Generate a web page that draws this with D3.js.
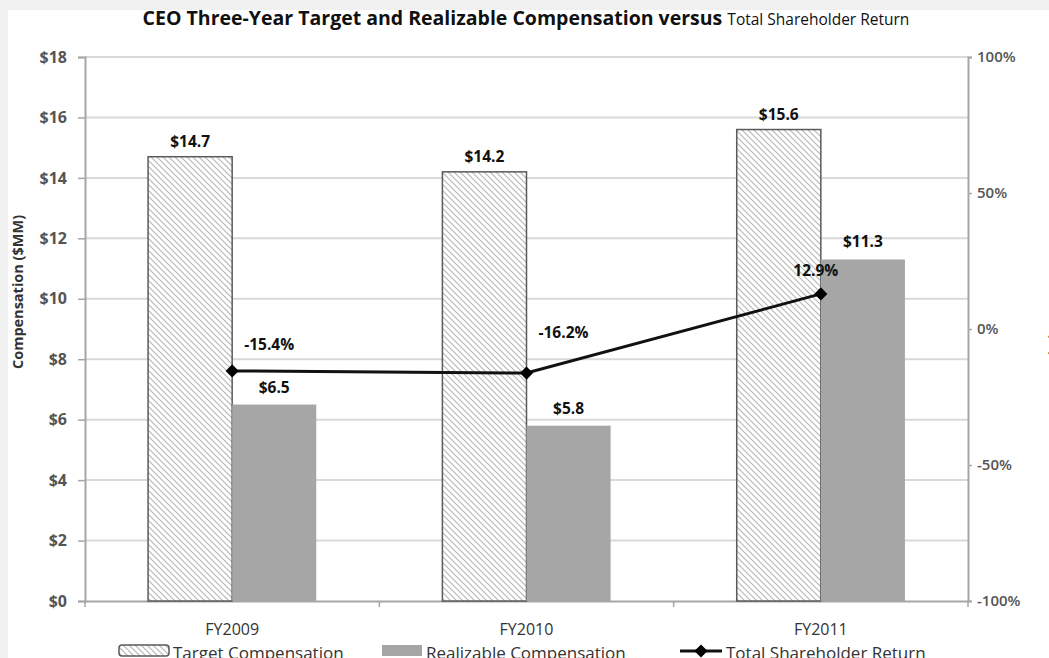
<!DOCTYPE html>
<html>
<head>
<meta charset="utf-8">
<script src="https://cdn.jsdelivr.net/npm/d3@7"></script>
<style>
  html, body { margin: 0; padding: 0; background: #f0f0f0; }
  svg { display: block; font-family: "Open Sans", Lato, sans-serif; }
</style>
</head>
<body>
<svg id="chart" width="1049" height="658"></svg>
<script>
// Chart data
const categories = ["FY2009", "FY2010", "FY2011"];
const targetComp = [14.7, 14.2, 15.6];       // $MM
const realizableComp = [6.5, 5.8, 11.3];     // $MM
const tsr = [-0.154, -0.162, 0.129];         // total shareholder return
const leftTicks = [0, 2, 4, 6, 8, 10, 12, 14, 16, 18];
const rightTicks = [-1, -0.5, 0, 0.5, 1];
const seriesNames = ["Target Compensation", "Realizable Compensation", "Total Shareholder Return"];

const svg = d3.select("#chart");
const W = 1049, H = 658;
const plot = { left: 85, right: 968, top: 57, bottom: 601 };
const font = "'Open Sans', Lato, sans-serif";
const minus = s => s.replace(/\u2212/g, "-");

// panel
svg.append("rect").attr("x", 0).attr("y", 0).attr("width", W).attr("height", H).attr("fill", "#f0f0f0");
svg.append("rect").attr("x", 8).attr("y", 10).attr("width", W).attr("height", H).attr("fill", "#ffffff");

// hatch for target bars
const defs = svg.append("defs");
const pat = defs.append("pattern").attr("id", "hatch").attr("patternUnits", "userSpaceOnUse")
  .attr("width", 6).attr("height", 6);
pat.append("rect").attr("width", 6).attr("height", 6).attr("fill", "#ffffff");
pat.append("path").attr("d", "M-1,-1 L7,7 M-1,5 L1,7 M5,-1 L7,1")
  .attr("stroke", "#b5b5b5").attr("stroke-width", 1.1);

// scales
const x = d3.scaleBand().domain(categories).range([plot.left, plot.right]).padding(0);
const xs = d3.scaleBand().domain(["target", "realizable"]).range([0, x.bandwidth()])
  .paddingInner(0).paddingOuter(0.75);
const y = d3.scaleLinear().domain([0, 18]).range([plot.bottom, plot.top]);
const y2 = d3.scaleLinear().domain([-1, 1]).range([plot.bottom, plot.top]);

// gridlines
svg.append("g").selectAll("line").data(leftTicks.filter(d => d > 0)).join("line")
  .attr("x1", plot.left).attr("x2", plot.right)
  .attr("y1", d => y(d)).attr("y2", d => y(d))
  .attr("stroke", "#d9d9d9").attr("stroke-width", 2);

const axisColor = "#a6a6a6";
const tickText = "#555555";

// left axis
const gL = svg.append("g").attr("transform", `translate(${plot.left},0)`)
  .call(d3.axisLeft(y).tickValues(leftTicks).tickFormat(d => "$" + d).tickSize(7).tickPadding(11));
gL.select(".domain").attr("stroke", axisColor).attr("stroke-width", 2);
gL.selectAll(".tick line").attr("stroke", axisColor).attr("stroke-width", 1.5);
gL.selectAll(".tick text").attr("fill", tickText).attr("font-size", 16).attr("font-weight", "bold")
  .attr("font-family", font);

// right axis
const gR = svg.append("g").attr("transform", `translate(${plot.right},0)`)
  .call(d3.axisRight(y2).tickValues(rightTicks).tickFormat(d => minus(d3.format(".0%")(d)))
    .tickSize(4).tickPadding(5));
gR.select(".domain").attr("stroke", axisColor).attr("stroke-width", 2);
gR.selectAll(".tick line").attr("stroke", axisColor).attr("stroke-width", 1.5);
gR.selectAll(".tick text").attr("fill", tickText).attr("font-size", 15).attr("font-weight", "600")
  .attr("font-family", font);

// category axis
const gX = svg.append("g").attr("transform", `translate(0,${plot.bottom})`)
  .call(d3.axisBottom(x).tickSize(0).tickPadding(23));
gX.select(".domain").attr("stroke", axisColor).attr("stroke-width", 2);
gX.selectAll(".tick text").attr("fill", "#333333").attr("font-size", 16)
  .attr("font-family", font);
svg.append("g").selectAll("line").data(d3.range(categories.length + 1)).join("line")
  .attr("x1", i => plot.left + i * x.step()).attr("x2", i => plot.left + i * x.step())
  .attr("y1", plot.bottom).attr("y2", plot.bottom + 6)
  .attr("stroke", axisColor).attr("stroke-width", 1.5);

// bars
const rows = categories.map((c, i) => ({ c, target: targetComp[i], real: realizableComp[i], tsr: tsr[i] }));

svg.append("g").selectAll("rect").data(rows).join("rect")
  .attr("x", d => x(d.c) + xs("target"))
  .attr("y", d => y(d.target))
  .attr("width", xs.bandwidth())
  .attr("height", d => y(0) - y(d.target))
  .attr("fill", "url(#hatch)").attr("stroke", "#5a5a5a").attr("stroke-width", 1.5);

svg.append("g").selectAll("rect").data(rows).join("rect")
  .attr("x", d => x(d.c) + xs("realizable"))
  .attr("y", d => y(d.real))
  .attr("width", xs.bandwidth())
  .attr("height", d => y(0) - y(d.real))
  .attr("fill", "#a6a6a6");

// bar value labels
svg.append("g").selectAll("text").data(rows).join("text")
  .attr("x", d => x(d.c) + xs("target") + xs.bandwidth() / 2)
  .attr("y", d => y(d.target) - 10)
  .attr("text-anchor", "middle").attr("font-size", 15.5).attr("font-weight", "bold")
  .attr("font-family", font).attr("fill", "#111")
  .text(d => "$" + d.target.toFixed(1));

svg.append("g").selectAll("text").data(rows).join("text")
  .attr("x", d => x(d.c) + xs("realizable") + xs.bandwidth() / 2)
  .attr("y", d => y(d.real) - 12)
  .attr("text-anchor", "middle").attr("font-size", 15.5).attr("font-weight", "bold")
  .attr("font-family", font).attr("fill", "#111")
  .text(d => "$" + d.real.toFixed(1));

// TSR line
const cx = d => x(d.c) + x.bandwidth() / 2;
const line = d3.line().x(cx).y(d => y2(d.tsr));
svg.append("path").datum(rows).attr("d", line)
  .attr("fill", "none").attr("stroke", "#111").attr("stroke-width", 3);

const diamond = d3.symbol().type(d3.symbolDiamond2).size(110);
svg.append("g").selectAll("path").data(rows).join("path")
  .attr("d", diamond)
  .attr("transform", d => `translate(${cx(d)},${y2(d.tsr)})`)
  .attr("fill", "#000");

// TSR labels (nudged off the line)
const tsrOffsets = [[37, -21], [37, -35], [-5, -18]];
svg.append("g").selectAll("text").data(rows).join("text")
  .attr("x", (d, i) => cx(d) + tsrOffsets[i][0])
  .attr("y", (d, i) => y2(d.tsr) + tsrOffsets[i][1])
  .attr("text-anchor", "middle").attr("font-size", 15.5).attr("font-weight", "bold")
  .attr("font-family", font).attr("fill", "#111")
  .text(d => minus(d3.format(".1%")(d.tsr)));

// title
const title = svg.append("text").attr("x", 526).attr("y", 25).attr("text-anchor", "middle")
  .attr("font-family", font).attr("fill", "#111");
title.append("tspan").attr("font-size", 19.5).attr("font-weight", "bold")
  .text("CEO Three-Year Target and Realizable Compensation versus ");
title.append("tspan").attr("font-size", 15.5).attr("font-weight", "normal")
  .text("Total Shareholder Return");

// axis titles
svg.append("text").attr("transform", "translate(23,292) rotate(-90)")
  .attr("text-anchor", "middle").attr("font-size", 14.5).attr("font-weight", "bold")
  .attr("font-family", font).attr("fill", "#333")
  .text("Compensation ($MM)");
svg.append("text").attr("transform", "translate(1051,330) rotate(90)")
  .attr("text-anchor", "middle").attr("font-size", 14.5).attr("font-weight", "bold")
  .attr("font-family", font).attr("fill", "#333")
  .text("TSR (%)");

// legend
const lg = svg.append("g").attr("font-family", font).attr("font-size", 17).attr("fill", "#333");
lg.append("rect").attr("x", 119).attr("y", 645).attr("width", 50).attr("height", 11).attr("rx", 3)
  .attr("fill", "url(#hatch)").attr("stroke", "#5a5a5a").attr("stroke-width", 1.5);
lg.append("text").attr("x", 173).attr("y", 659).text(seriesNames[0]);
lg.append("rect").attr("x", 382).attr("y", 645).attr("width", 40).attr("height", 11).attr("fill", "#a6a6a6");
lg.append("text").attr("x", 426).attr("y", 659).text(seriesNames[1]);
lg.append("line").attr("x1", 680).attr("x2", 722).attr("y1", 651).attr("y2", 651)
  .attr("stroke", "#111").attr("stroke-width", 3);
lg.append("path").attr("d", diamond).attr("transform", "translate(701,651)").attr("fill", "#000");
lg.append("text").attr("x", 726).attr("y", 659).text(seriesNames[2]);
</script>
</body>
</html>
